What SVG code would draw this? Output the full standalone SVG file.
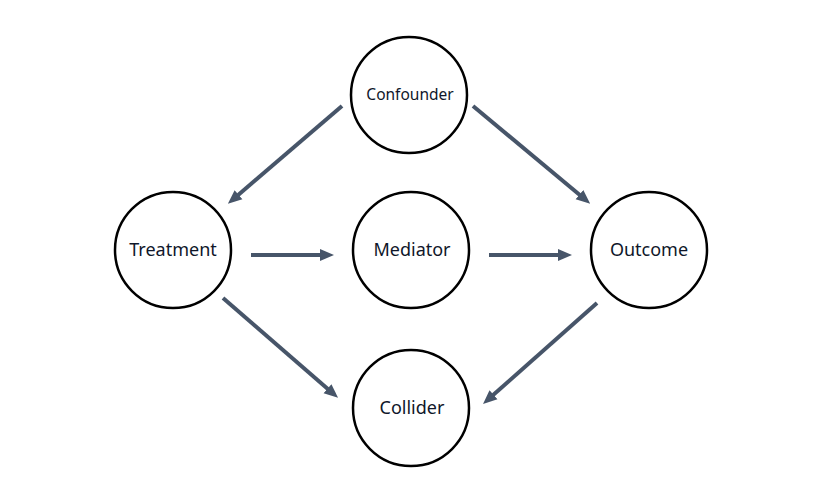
<svg xmlns="http://www.w3.org/2000/svg" width="835" height="482" viewBox="0 0 835 482">
<style>
.node circle{fill:#fff;stroke:#000;stroke-width:2.5}
.node text{font-family:"Noto Sans","Open Sans",sans-serif;font-size:18px;fill:#0f172a;text-anchor:middle;dominant-baseline:central}
.edge{stroke:#475569;stroke-width:4;fill:none;marker-end:url(#ah)}
</style>
<defs>
<marker id="ah" markerUnits="userSpaceOnUse" markerWidth="14" markerHeight="14" viewBox="0 0 14 14" refX="2" refY="7" orient="auto">
<path d="M0,1 L14,7 L0,13 Z" fill="#475569"/>
</marker>
</defs>
<rect width="835" height="482" fill="#fff"/>
<g id="connectors">
<line class="edge" x1="251" y1="255" x2="322" y2="255"/>
<line class="edge" x1="489" y1="255" x2="560" y2="255"/>
<line class="edge" x1="342" y1="106" x2="237" y2="196"/>
<line class="edge" x1="473" y1="106" x2="581" y2="196"/>
<line class="edge" x1="223" y1="298" x2="329" y2="390"/>
<line class="edge" x1="597" y1="303" x2="492" y2="396"/>
</g>
<g id="confounder" class="node"><circle cx="409" cy="95" r="58"/><text x="410" y="94" style="font-size:15.5px">Confounder</text></g>
<g id="treatment" class="node"><circle cx="173" cy="250" r="58"/><text x="173" y="249">Treatment</text></g>
<g id="mediator" class="node"><circle cx="411" cy="250" r="58"/><text x="412" y="249">Mediator</text></g>
<g id="outcome" class="node"><circle cx="649" cy="250" r="58"/><text x="649" y="249">Outcome</text></g>
<g id="collider" class="node"><circle cx="411" cy="408" r="58"/><text x="412" y="407">Collider</text></g>
</svg>
